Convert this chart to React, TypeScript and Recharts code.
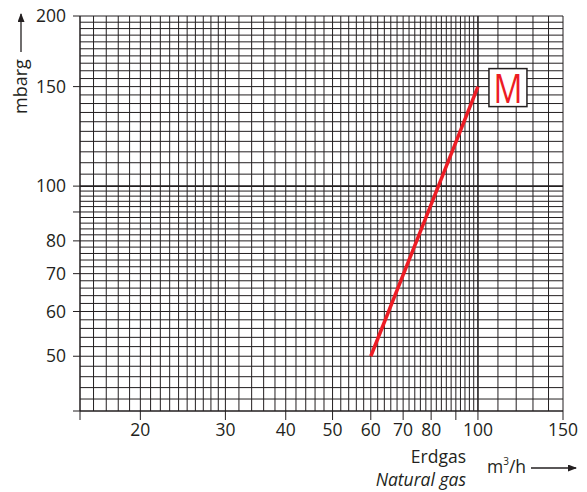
import { ComposedChart, Line, XAxis, YAxis, ReferenceLine, ReferenceDot } from "recharts"

// m³/h on the x axis, mbarg on the y axis
const flowTicks = [15, 20, 30, 40, 50, 60, 70, 80, 90, 100, 150]
const flowUnlabeled = [15, 90]
const pressureTicks = [40, 50, 60, 70, 80, 90, 100, 150, 200]
const pressureUnlabeled = [40, 90]

const curveM = [
  { flow: 60, pressure: 50 },
  { flow: 100, pressure: 150 },
]

function range(from: number, to: number, step: number) {
  const out: number[] = []
  for (let v = from; v <= to + 1e-9; v += step) out.push(v)
  return out
}

// log paper grid
const flowGrid = [...range(15, 30, 1), ...range(32, 100, 2), ...range(110, 150, 10)]
const pressureGrid = [...range(40, 100, 2), ...range(105, 200, 5)]

const INK = "#231f20"
const RED = "#ed1c24"
const FONT = "'Open Sans', 'Noto Sans', sans-serif"

function MarkerLabel({ cx, cy }: { cx?: number; cy?: number }) {
  if (cx == null || cy == null) return null
  return (
    <g>
      <rect x={cx + 11} y={cy - 18} width={38} height={38} fill="#fff" stroke={INK} strokeWidth={1.5} />
      <text
        x={cx + 30}
        y={cy + 16}
        textAnchor="middle"
        fill={RED}
        fontSize={40}
        fontFamily={FONT}
        textLength={29}
        lengthAdjust="spacingAndGlyphs"
      >
        M
      </text>
    </g>
  )
}

export default function App() {
  const tickStyle = { fill: INK, fontSize: 17.5, fontFamily: FONT }
  return (
    <div style={{ position: "absolute", left: 0, top: 0, width: 587, height: 492, background: "#fff" }}>
      <ComposedChart width={587} height={492} data={curveM} margin={{ top: 16, right: 24, bottom: 0, left: 0 }}>
        <XAxis
          dataKey="flow"
          type="number"
          scale="log"
          domain={[15, 150]}
          ticks={flowTicks}
          interval={0}
          allowDataOverflow
          height={81}
          tickSize={9}
          tickMargin={4}
          stroke={INK}
          tick={tickStyle}
          tickFormatter={(v: number) => (flowUnlabeled.includes(v) ? "" : String(v))}
        />
        <YAxis
          dataKey="pressure"
          type="number"
          scale="log"
          domain={[40, 200]}
          ticks={pressureTicks}
          interval={0}
          allowDataOverflow
          width={80}
          tickSize={7}
          tickMargin={7}
          stroke={INK}
          tick={tickStyle}
          tickFormatter={(v: number) => (pressureUnlabeled.includes(v) ? "" : String(v))}
        />
        {flowGrid.map((v) => (
          <ReferenceLine key={"x" + v} x={v} stroke={INK} strokeWidth={v === 100 ? 1.6 : 1} ifOverflow="visible" />
        ))}
        {pressureGrid.map((v) => (
          <ReferenceLine key={"y" + v} y={v} stroke={INK} strokeWidth={v === 100 ? 1.8 : 1} ifOverflow="visible" />
        ))}
        <Line
          dataKey="pressure"
          type="linear"
          stroke={RED}
          strokeWidth={3.5}
          dot={false}
          activeDot={false}
          isAnimationActive={false}
        />
        <ReferenceDot x={100} y={150} r={0} ifOverflow="visible" shape={(p: any) => <MarkerLabel cx={p.cx} cy={p.cy} />} />
      </ComposedChart>
      <svg width={587} height={492} style={{ position: "absolute", left: 0, top: 0, pointerEvents: "none" }}>
        <defs>
          <marker id="arrowHead" markerWidth="9" markerHeight="7" refX="8" refY="3.5" orient="auto" markerUnits="userSpaceOnUse">
            <path d="M0,0 L9,3.5 L0,7 Z" fill={INK} />
          </marker>
        </defs>
        <g transform="translate(27,114) rotate(-90)">
          <text x={0} y={0} fill={INK} fontSize={18} fontFamily={FONT}>
            mbarg
          </text>
          <line x1={62} y1={-6} x2={100} y2={-6} stroke={INK} strokeWidth={1.3} markerEnd="url(#arrowHead)" />
        </g>
        <text x={466} y={463} textAnchor="end" fill={INK} fontSize={17.5} fontFamily={FONT}>
          Erdgas
        </text>
        <text x={466} y={486} textAnchor="end" fill={INK} fontSize={17.5} fontStyle="italic" fontFamily={FONT}>
          Natural gas
        </text>
        <text x={487} y={473} fill={INK} fontSize={17.5} fontFamily={FONT}>
          m<tspan fontSize={10} dy={-8}>3</tspan>
          <tspan dy={8}>/h</tspan>
        </text>
        <line x1={531} y1={468} x2={576} y2={468} stroke={INK} strokeWidth={1.3} markerEnd="url(#arrowHead)" />
      </svg>
    </div>
  )
}
